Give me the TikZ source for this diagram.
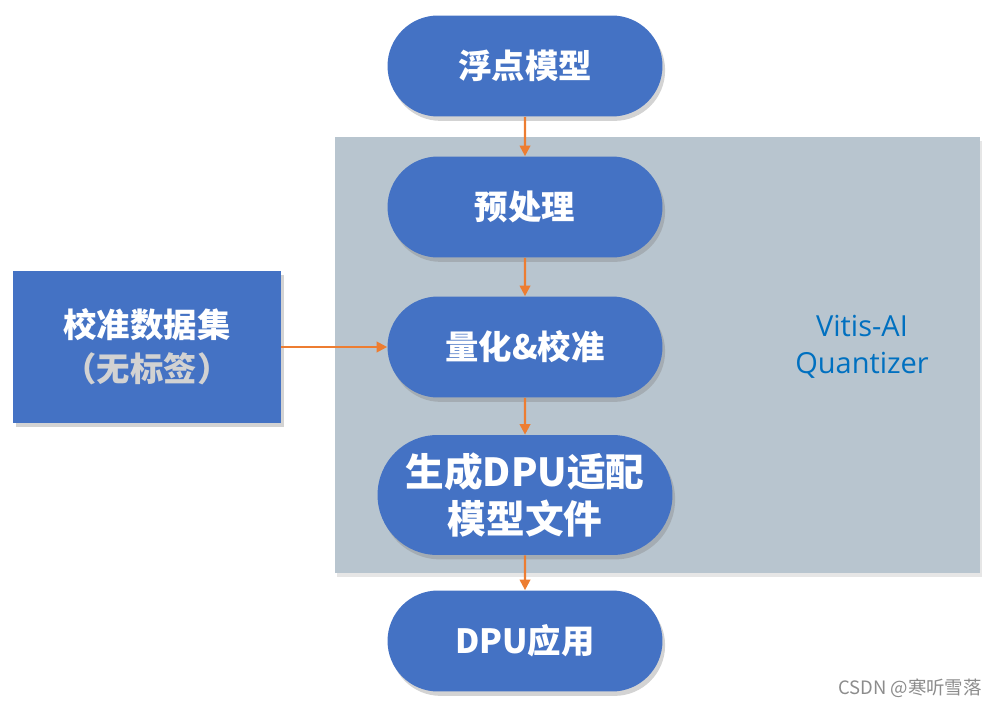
\documentclass[tikz,border=0pt]{standalone}
\usepackage{fontspec}
\usepackage{xcolor}
\usepackage{tikz}
\usetikzlibrary{shapes,shapes.misc,arrows.meta,positioning,shadows}

\newfontfamily\cjk{Noto Sans CJK SC}
\newfontfamily\latinfont{Open Sans}

\definecolor{nodeblue}{RGB}{68,114,196}
\definecolor{zonegray}{RGB}{184,197,207}
\definecolor{arroworange}{RGB}{237,125,49}
\definecolor{labelblue}{RGB}{0,112,192}
\definecolor{subgray}{RGB}{210,210,210}

\begin{document}
\begin{tikzpicture}[
                x=0.02cm, y=-0.02cm,
                stepnode/.style={
                    rounded rectangle,
                    fill=nodeblue,
                    text=white,
                    minimum width=5.5cm,
                    minimum height=2.02cm,
                    inner sep=0pt,
                    align=center,
                    font=\cjk\bfseries\fontsize{19}{25}\selectfont,
                    drop shadow={opacity=0.35, shadow xshift=1.5pt, shadow yshift=-2.5pt}
                },
                flowarrow/.style={
                    -{Triangle[width=6pt,length=6pt]},
                    line width=1.2pt,
                    color=arroworange
                }
            ]
                \useasboundingbox (0,0) rectangle (994,706);

                % quantizer zone
                \draw[
                    fill=zonegray,
                    draw=none,
                    drop shadow={opacity=0.2, shadow xshift=1pt, shadow yshift=-2pt}
                ] (335,137) rectangle (980,573);

                \node[font=\latinfont\fontsize{16.5}{21}\selectfont, text=labelblue, align=center]
                    (zonelabel) at (862,347) {Vitis-AI\\Quantizer};

                % flow steps
                \node[stepnode] (float) at (525,66) {浮点模型};
                \node[stepnode] (preproc) at (525,207) {预处理};
                \node[stepnode] (quant) at (525,347) {量化\&校准};
                \node[stepnode, minimum width=5.9cm, minimum height=2.4cm,
                      font=\cjk\bfseries\fontsize{22}{27}\selectfont]
                    (gen) at (525,495) {生成DPU适配\\模型文件};
                \node[stepnode] (app) at (525,641) {DPU应用};

                % calibration data
                \node[
                    rectangle,
                    fill=nodeblue,
                    minimum width=5.36cm,
                    minimum height=3.04cm,
                    align=center,
                    font=\cjk\bfseries\fontsize{19}{25}\selectfont,
                    drop shadow={opacity=0.35, shadow xshift=1.5pt, shadow yshift=-2.5pt}
                ] (calib) at (147,347) {\textcolor{white}{校准数据集}\\\textcolor{subgray}{（无标签）}};

                \draw[flowarrow] (float) -- (preproc);
                \draw[flowarrow] (preproc) -- (quant);
                \draw[flowarrow] (quant) -- (gen);
                \draw[flowarrow] (gen) -- (app);
                \draw[flowarrow] (calib.east) -- (quant.west);

                \node[font=\cjk\fontsize{10.5}{12}\selectfont, text=black!45]
                    (mark) at (910,688) {CSDN @寒听雪落};
            \end{tikzpicture}
\end{document}
